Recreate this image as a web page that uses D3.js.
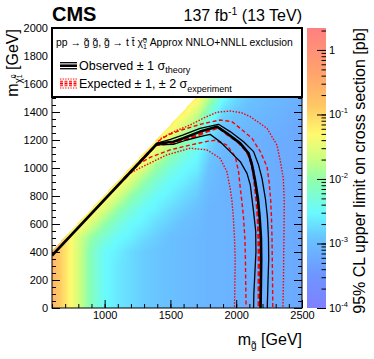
<!DOCTYPE html>
<html><head><meta charset="utf-8">
<script src="https://cdn.jsdelivr.net/npm/d3@7"></script>
<style>
html,body{margin:0;padding:0;background:#fff;}
svg{display:block;font-family:"Liberation Sans",Arial,Helvetica,sans-serif;}
</style></head><body>
<svg id="chart" width="374" height="359"></svg>
<script>
// ---------------- data ----------------
const gluinoMasses=[600,700,800,900,1000,1100,1200,1300,1400,1500,1600,1700,1800,1900,2000,2100,2200,2300,2400,2500];
const neutralinoMasses=[0,100,200,300,400,500,600,700,800,900,1000,1100,1200,1300,1400,1500,1600];
const N=null;
// log10 of 95% CL upper limit on cross section [pb]; rows = neutralino mass, cols = gluino mass
const limitLog10=[
 [-0.6,-1.1,-1.6,-2.15,-2.5,-2.65,-2.75,-2.85,-2.9,-2.95,-3.0,-3.05,-3.1,-3.1,-3.15,-3.15,-3.15,-3.2,-3.2,-3.25],
 [-0.6,-1.1,-1.6,-2.15,-2.5,-2.65,-2.75,-2.85,-2.9,-2.95,-3.0,-3.05,-3.1,-3.1,-3.15,-3.15,-3.15,-3.2,-3.2,-3.25],
 [-0.6,-1.1,-1.6,-2.15,-2.5,-2.65,-2.75,-2.85,-2.9,-2.95,-3.0,-3.05,-3.1,-3.1,-3.15,-3.15,-3.15,-3.2,-3.2,-3.25],
 [-0.6,-1.1,-1.6,-2.15,-2.5,-2.65,-2.75,-2.85,-2.9,-2.95,-3.0,-3.05,-3.1,-3.1,-3.15,-3.15,-3.15,-3.2,-3.2,-3.25],
 [-0.6,-1.1,-1.6,-2.15,-2.5,-2.6,-2.75,-2.85,-2.9,-2.95,-3.0,-3.05,-3.1,-3.1,-3.15,-3.15,-3.15,-3.2,-3.2,-3.25],
 [-0.6,-1.1,-1.6,-2.0,-2.3,-2.5,-2.6,-2.75,-2.85,-2.95,-3.0,-3.05,-3.1,-3.1,-3.15,-3.15,-3.15,-3.2,-3.2,-3.25],
 [N,-1.1,-1.2,-1.6,-2.0,-2.3,-2.5,-2.6,-2.75,-2.85,-2.95,-3.0,-3.1,-3.1,-3.15,-3.15,-3.15,-3.2,-3.2,-3.25],
 [N,N,-1.1,-1.2,-1.6,-2.0,-2.3,-2.5,-2.6,-2.75,-2.85,-2.95,-3.1,-3.1,-3.15,-3.15,-3.15,-3.2,-3.2,-3.25],
 [N,N,N,-1.1,-1.2,-1.6,-2.0,-2.3,-2.5,-2.6,-2.75,-2.85,-3.05,-3.1,-3.15,-3.15,-3.15,-3.2,-3.2,-3.25],
 [N,N,N,N,-1.1,-1.2,-1.6,-2.0,-2.3,-2.5,-2.6,-2.75,-3.0,-3.1,-3.15,-3.15,-3.15,-3.2,-3.2,-3.25],
 [N,N,N,N,N,-1.1,-1.2,-1.6,-2.0,-2.3,-2.5,-2.6,-2.95,-3.1,-3.15,-3.15,-3.15,-3.2,-3.2,-3.25],
 [N,N,N,N,N,N,-1.1,-1.2,-1.6,-2.0,-2.3,-2.5,-2.85,-3.05,-3.1,-3.15,-3.15,-3.2,-3.2,-3.25],
 [N,N,N,N,N,N,N,-1.1,-1.2,-1.6,-2.0,-2.3,-2.75,-3.0,-3.05,-3.1,-3.15,-3.2,-3.2,-3.25],
 [N,N,N,N,N,N,N,N,-1.1,-1.2,-1.6,-2.0,-2.55,-2.9,-3.0,-3.05,-3.1,-3.15,-3.2,-3.25],
 [N,N,N,N,N,N,N,N,N,-1.1,-1.2,-1.6,-2.25,-2.75,-2.9,-3.0,-3.05,-3.1,-3.15,-3.2],
 [N,N,N,N,N,N,N,N,N,N,-1.1,-1.2,-1.85,-2.5,-2.75,-2.9,-3.0,-3.05,-3.1,-3.15],
 [N,N,N,N,N,N,N,N,N,N,N,-1.1,-1.35,-2.1,-2.5,-2.75,-2.9,-3.0,-3.05,-3.1]
];
const scanEdgeDm=190; // scanned points satisfy m_gluino - m_LSP >= this

// exclusion contours [m_gluino, m_LSP]
const obsCentral=[[600,375],[1400,1175],[1522,1188],[1598,1212],[1725,1260],[1853,1295],[1929,1248],[2031,1176],[2094,1105],[2120,1021],[2145,902],[2165,780],[2178,650],[2188,500],[2190,350],[2188,200],[2185,0]];
const obsUp=[[1400,1178],[1500,1205],[1598,1236],[1725,1283],[1865,1312],[1954,1260],[2056,1188],[2132,1117],[2170,1021],[2196,926],[2222,780],[2237,650],[2245,500],[2247,350],[2242,200],[2236,0]];
const obsDown=[[1390,1165],[1522,1169],[1624,1200],[1725,1224],[1802,1240],[1878,1188],[1954,1117],[2031,1045],[2082,962],[2107,879],[2120,780],[2133,680],[2148,550],[2150,400],[2142,250],[2134,100],[2132,0]];
const expCentral=[[1150,925],[1390,1165],[1520,1178],[1650,1215],[1780,1262],[1865,1290],[1930,1242],[2010,1190],[2075,1125],[2108,1065],[2130,975],[2145,855],[2155,770],[2165,650],[2170,500],[2173,350],[2172,200],[2172,0]];
const expUp1=[[1405,1190],[1480,1235],[1573,1268],[1740,1315],[1878,1343],[1967,1331],[2031,1283],[2120,1212],[2183,1117],[2234,1009],[2250,902],[2262,771],[2268,650],[2272,500],[2274,350],[2276,200],[2278,0]];
const expDown1=[[1250,1025],[1350,1078],[1497,1129],[1649,1164],[1780,1190],[1840,1198],[1929,1164],[1993,1081],[2018,974],[2031,855],[2042,770],[2055,650],[2066,500],[2070,350],[2072,200],[2075,0]];
const expUp2=[[1425,1210],[1522,1258],[1649,1307],[1760,1360],[1853,1398],[1954,1407],[2040,1395],[2107,1367],[2234,1283],[2310,1164],[2336,1045],[2358,926],[2365,771],[2364,600],[2361,400],[2360,250],[2355,0]];
const expDown2=[[1180,955],[1268,1000],[1471,1093],[1649,1141],[1776,1130],[1878,1069],[1929,974],[1954,855],[1967,771],[1978,650],[1987,500],[1992,350],[1990,200],[1987,0]];

const xTickLabels=[1000,1500,2000,2500];
const yTickLabels=[0,200,400,600,800,1000,1200,1400,1600,1800,2000];
const zTickValues=[1e-4,1e-3,1e-2,1e-1,1];
const zTickExponents=["-4","-3","-2","-1",null];
const paletteStops=[0,0.12,0.25,0.34,0.45,0.53,0.62,0.72,0.85,1];
const paletteColors=["#8080ff","#6e96ff","#69c3ff","#69faff","#8cffaf","#c8ff82","#fffa6e","#ffc864","#ffa06e","#ff8080"];

// ---------------- layout ----------------
const M={l:52,r:302,t:28,b:308};
const plotW=M.r-M.l, plotH=M.b-M.t;
const svg=d3.select('#chart');
const x=d3.scaleLinear().domain([600,2500]).range([M.l,M.r]);
const y=d3.scaleLinear().domain([0,2000]).range([M.b,M.t]);
const z=d3.scaleLog().domain([1e-4,2.19]).range([M.b,M.t]);
const palette=d3.scaleLinear().domain(paletteStops).range(paletteColors).interpolate(d3.interpolateRgb).clamp(true);
const colorOf=lv=>palette((M.b-z(Math.pow(10,lv)))/plotH);

// ---------------- heat map ----------------
function valueAt(g,c){
  const gStep=gluinoMasses[1]-gluinoMasses[0], cStep=neutralinoMasses[1]-neutralinoMasses[0];
  let fi=(g-gluinoMasses[0])/gStep, fj=(c-neutralinoMasses[0])/cStep;
  fi=Math.max(0,Math.min(gluinoMasses.length-1,fi));
  fj=Math.max(0,Math.min(neutralinoMasses.length-1,fj));
  const i0=Math.min(Math.floor(fi),gluinoMasses.length-2), j0=Math.min(Math.floor(fj),neutralinoMasses.length-2);
  const tx=fi-i0, ty=fj-j0;
  let s=0,w=0;
  [[0,0,(1-tx)*(1-ty)],[1,0,tx*(1-ty)],[0,1,(1-tx)*ty],[1,1,tx*ty]].forEach(([di,dj,ww])=>{
    const v=limitLog10[j0+dj][i0+di];
    if(v!=null&&ww>0){s+=v*ww;w+=ww;}
  });
  return w>0?s/w:null;
}
const cv=document.createElement('canvas'); cv.width=plotW; cv.height=plotH;
const ctx=cv.getContext('2d'); const im=ctx.createImageData(plotW,plotH);
for(let py=0;py<plotH;py++){
  for(let px=0;px<plotW;px++){
    const g=x.invert(M.l+px+0.5), c=y.invert(M.t+py+0.5);
    if(g-c<scanEdgeDm) continue;
    const v=valueAt(g,c); if(v==null) continue;
    const col=d3.rgb(colorOf(v)); const k=(py*plotW+px)*4;
    im.data[k]=col.r; im.data[k+1]=col.g; im.data[k+2]=col.b; im.data[k+3]=255;
  }
}
ctx.putImageData(im,0,0);
svg.append('image').attr('x',M.l).attr('y',M.t).attr('width',plotW).attr('height',plotH)
  .attr('preserveAspectRatio','none').attr('href',cv.toDataURL());

// ---------------- axes ----------------
function styleAxis(g){ g.select('.domain').remove(); g.selectAll('line').attr('stroke','#000').attr('stroke-width',1);
  g.selectAll('text').attr('font-size',11).attr('font-family','"Liberation Sans",Arial,sans-serif').attr('fill','#000'); }
svg.append('g').attr('transform',`translate(0,${M.b})`)
  .call(d3.axisBottom(x).tickValues(x.ticks(19)).tickSize(-4).tickFormat('')).call(styleAxis);
svg.append('g').attr('transform',`translate(0,${M.b})`)
  .call(d3.axisBottom(x).tickValues(xTickLabels).tickSize(-8).tickPadding(3).tickFormat(d3.format('d'))).call(styleAxis);
svg.append('g').attr('transform',`translate(${M.l},0)`)
  .call(d3.axisLeft(y).tickValues(y.ticks(40)).tickSize(-4).tickFormat('')).call(styleAxis);
svg.append('g').attr('transform',`translate(${M.l},0)`)
  .call(d3.axisLeft(y).tickValues(yTickLabels).tickSize(-8).tickPadding(4).tickFormat(d3.format('d'))).call(styleAxis);
svg.append('g').attr('transform',`translate(${M.r},0)`)
  .call(d3.axisRight(y).tickValues(y.ticks(40)).tickSize(-4).tickFormat('')).call(styleAxis);
svg.append('g').attr('transform',`translate(${M.r},0)`)
  .call(d3.axisRight(y).tickValues(yTickLabels).tickSize(-8).tickFormat('')).call(styleAxis);
svg.append('rect').attr('x',M.l).attr('y',M.t).attr('width',plotW).attr('height',plotH)
  .attr('fill','none').attr('stroke','#000').attr('stroke-width',1);

// ---------------- contours ----------------
const line=d3.line().x(d=>x(d[0])).y(d=>y(d[1]));
svg.append('clipPath').attr('id','plotclip').append('rect').attr('x',M.l).attr('y',M.t).attr('width',plotW).attr('height',plotH);
const cg=svg.append('g').attr('clip-path','url(#plotclip)');
const RED='#ff0000';
const styles=[
  {d:expUp2,c:RED,w:1.4,dash:'1.5,1.5'},
  {d:expDown2,c:RED,w:1.4,dash:'1.5,1.5'},
  {d:expUp1,c:RED,w:1.4,dash:'4,2.5'},
  {d:expDown1,c:RED,w:1.4,dash:'4,2.5'},
  {d:expCentral,c:RED,w:2.6,dash:'5,2.5'},
  {d:obsUp,c:'#000',w:1.3,dash:null},
  {d:obsDown,c:'#000',w:1.3,dash:null},
  {d:obsCentral,c:'#000',w:2.6,dash:null}
];
styles.forEach(s=>{
  cg.append('path').attr('d',line(s.d)).attr('fill','none').attr('stroke',s.c)
    .attr('stroke-width',s.w).attr('stroke-dasharray',s.dash).attr('stroke-linejoin','round');
});

// ---------------- legend ----------------
const LB={x:M.l,y:M.t,w:plotW,h:69};
svg.append('rect').attr('x',LB.x).attr('y',LB.y).attr('width',LB.w).attr('height',LB.h)
  .attr('fill','#fff').attr('stroke','#000').attr('stroke-width',2);
const t1=svg.append('text').attr('x',56).attr('y',46).attr('font-size',10.4);
t1.append('tspan').text('pp \u2192 g\u0303 g\u0303, g\u0303 \u2192 t t\u0304 \u03c7\u0303');
t1.append('tspan').attr('font-size',7).attr('dy',-3.5).text('0');
t1.append('tspan').attr('font-size',7).attr('dx',-3.9).attr('dy',6).text('1');
t1.append('tspan').attr('dy',-2.5).text(' Approx NNLO+NNLL exclusion');
// observed symbol
[[62.7,1.3],[65.7,2.6],[68.7,1.3]].forEach(([yy,w])=>svg.append('line').attr('x1',60).attr('x2',77).attr('y1',yy).attr('y2',yy).attr('stroke','#000').attr('stroke-width',w));
const t2=svg.append('text').attr('x',79).attr('y',70).attr('font-size',12.5);
t2.append('tspan').text('Observed \u00b1 1 \u03c3');
t2.append('tspan').attr('font-size',9).attr('dy',3).text('theory');
// expected symbol
[[79,1.1,'1.3,1.3'],[81.2,1.1,'3,1.5'],[83.5,2,'3,1.5'],[85.8,1.1,'3,1.5'],[88,1.1,'1.3,1.3']].forEach(([yy,w,da])=>
  svg.append('line').attr('x1',60).attr('x2',77).attr('y1',yy).attr('y2',yy).attr('stroke',RED).attr('stroke-width',w).attr('stroke-dasharray',da));
const t3=svg.append('text').attr('x',79).attr('y',88).attr('font-size',12.5);
t3.append('tspan').text('Expected \u00b1 1, \u00b1 2 \u03c3');
t3.append('tspan').attr('font-size',9).attr('dy',3.5).text('experiment');

// ---------------- titles ----------------
svg.append('text').attr('x',52).attr('y',21).attr('font-size',20).attr('font-weight','bold').text('CMS');
const lumi=svg.append('text').attr('x',M.r).attr('y',21).attr('font-size',16).attr('text-anchor','end');
lumi.append('tspan').text('137 fb');
lumi.append('tspan').attr('font-size',10.5).attr('dy',-6).text('-1');
lumi.append('tspan').attr('dy',6).text(' (13 TeV)');

const xt=svg.append('text').attr('x',M.r).attr('y',345).attr('font-size',16).attr('text-anchor','end');
xt.append('tspan').text('m');
xt.append('tspan').attr('font-size',10).attr('dy',4).text('g\u0303');
xt.append('tspan').attr('dy',-4).text(' [GeV]');

const yt=svg.append('text').attr('transform',`translate(18,${M.t+1}) rotate(-90)`).attr('font-size',16).attr('text-anchor','end');
yt.append('tspan').text('m');
yt.append('tspan').attr('font-size',10).attr('dy',4).text('\u03c7\u0303');
yt.append('tspan').attr('font-size',7).attr('dy',-6).text('0');
yt.append('tspan').attr('font-size',7).attr('dx',-3.9).attr('dy',6).text('1');
yt.append('tspan').attr('dy',-4).text(' [GeV]');

// ---------------- colour bar ----------------
const CB={x:307,w:19};
const grad=svg.append('defs').append('linearGradient').attr('id','zgrad').attr('x1',0).attr('y1',1).attr('x2',0).attr('y2',0);
paletteStops.forEach((s,i)=>grad.append('stop').attr('offset',s).attr('stop-color',paletteColors[i]));
svg.append('rect').attr('x',CB.x).attr('y',M.t).attr('width',CB.w).attr('height',plotH).attr('fill','url(#zgrad)');
svg.append('g').attr('transform',`translate(${CB.x+CB.w},0)`)
  .call(d3.axisRight(z).tickValues(z.ticks()).tickSize(-4.5).tickFormat('')).call(styleAxis);
svg.append('g').attr('transform',`translate(${CB.x+CB.w},0)`)
  .call(d3.axisRight(z).tickValues(zTickValues).tickSize(-9).tickFormat('')).call(styleAxis);
zTickValues.forEach((v,i)=>{
  const t=svg.append('text').attr('x',329).attr('y',z(v)+4).attr('font-size',11);
  if(zTickExponents[i]===null){ t.text('1'); }
  else { t.append('tspan').text('10'); t.append('tspan').attr('font-size',7.5).attr('dy',-5).text(zTickExponents[i]); }
});
svg.append('text').attr('transform',`translate(365,${M.t}) rotate(-90)`).attr('font-size',16).attr('text-anchor','end')
  .text('95% CL upper limit on cross section [pb]');
</script>
</body></html>
